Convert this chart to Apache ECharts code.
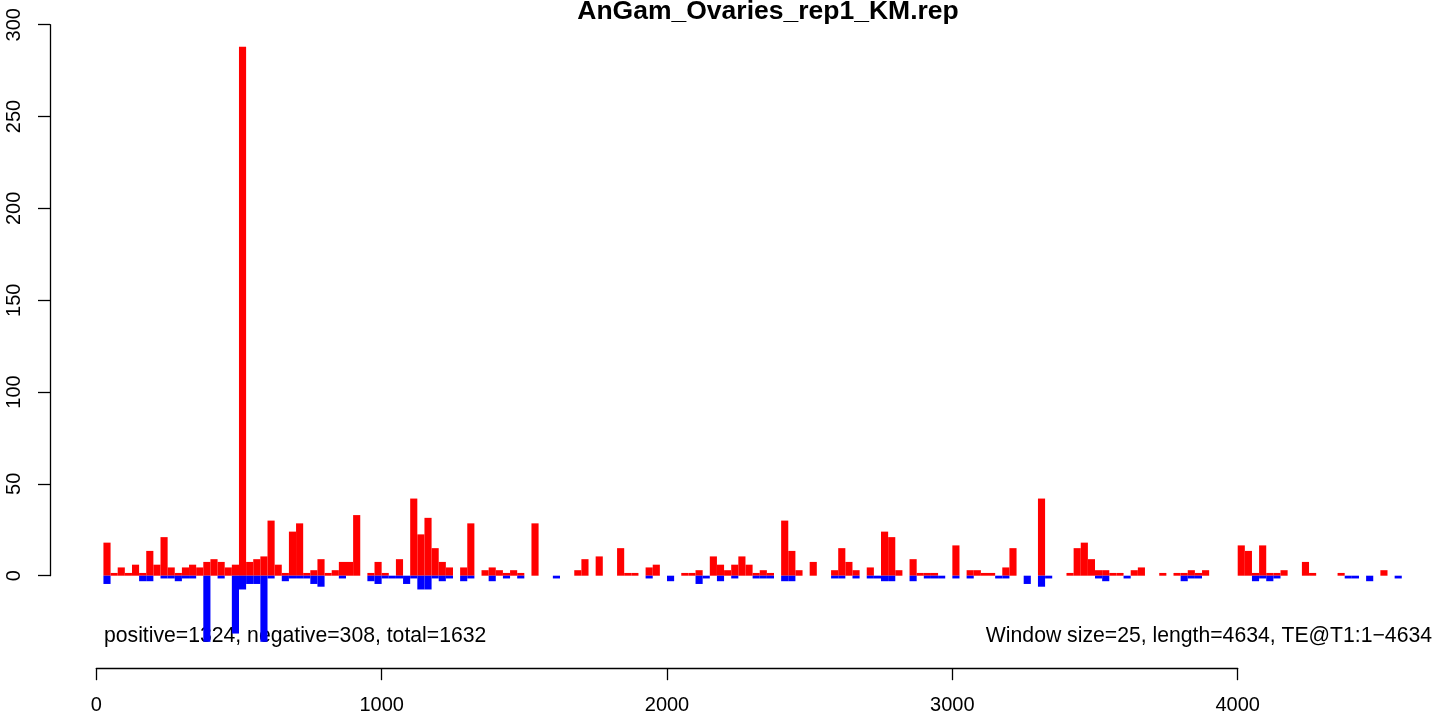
<!DOCTYPE html>
<html>
<head>
<meta charset="utf-8">
<title>AnGam_Ovaries_rep1_KM.rep</title>
<script src="https://cdn.jsdelivr.net/npm/echarts@6/dist/echarts.min.js"></script>
<style>
  html, body { margin: 0; padding: 0; background: #fff; }
  #main { width: 1450px; height: 719px; }
</style>
</head>
<body>
<div id="main"></div>
<script>
var chartTitle = 'AnGam_Ovaries_rep1_KM.rep';
var windowSize = 25;
var seqLength = 4634;
var statsText = 'positive=1324, negative=308, total=1632';
var infoText = 'Window size=25, length=4634, TE@T1:1\u22124634';

// one value per 25bp window, sense strand (red)
var posValues = [
    0, 18, 1.5, 4.5, 1.5, 6, 1.5, 13.5, 6, 21,
    4.5, 1.5, 4.5, 6, 4.5, 7.5, 9, 7.5, 4.5, 6,
    288, 7.5, 9, 10.5, 30, 6, 1.5, 24, 28.5, 1.5,
    3, 9, 1.5, 3, 7.5, 7.5, 33, 0, 1.5, 7.5,
    1.5, 0, 9, 0, 42, 22.5, 31.5, 15, 7.5, 4.5,
    0, 4.5, 28.5, 0, 3, 4.5, 3, 1.5, 3, 1.5,
    0, 28.5, 0, 0, 0, 0, 0, 3, 9, 0,
    10.5, 0, 0, 15, 1.5, 1.5, 0, 4.5, 6, 0,
    0, 0, 1.5, 1.5, 3, 0, 10.5, 6, 3, 6,
    10.5, 6, 1.5, 3, 1.5, 0, 30, 13.5, 3, 0,
    7.5, 0, 0, 3, 15, 7.5, 3, 0, 4.5, 0,
    24, 21, 3, 0, 9, 1.5, 1.5, 1.5, 0, 0,
    16.5, 0, 3, 3, 1.5, 1.5, 0, 4.5, 15, 0,
    0, 0, 42, 0, 0, 0, 1.5, 15, 18, 9,
    3, 3, 1.5, 1.5, 0, 3, 4.5, 0, 0, 1.5,
    0, 1.5, 1.5, 3, 1.5, 3, 0, 0, 0, 0,
    16.5, 13.5, 1.5, 16.5, 1.5, 1.5, 3, 0, 0, 7.5,
    1.5, 0, 0, 0, 1.5, 0, 0, 0, 0, 0,
    3, 0, 0, 0, 0, 0
];

// antisense strand (blue)
var negValues = [
    0, -4.5, 0, 0, 0, 0, -3, -3, 0, -1.5,
    -1.5, -3, -1.5, -1.5, 0, -36, 0, -1.5, 0, -31.5,
    -7.5, -4.5, -4.5, -36, -1.5, 0, -3, -1.5, -1.5, -1.5,
    -4.5, -6, 0, 0, -1.5, 0, 0, 0, -3, -4.5,
    -1.5, -1.5, -1.5, -4.5, -1.5, -7.5, -7.5, -1.5, -3, -1.5,
    0, -3, -1.5, 0, 0, -3, 0, -1.5, 0, -1.5,
    0, 0, 0, 0, -1.5, 0, 0, 0, 0, 0,
    0, 0, 0, 0, 0, 0, 0, -1.5, 0, 0,
    -3, 0, 0, 0, -4.5, -1.5, 0, -3, 0, -1.5,
    0, 0, -1.5, -1.5, -1.5, 0, -3, -3, 0, 0,
    0, 0, 0, -1.5, -1.5, 0, -1.5, 0, -1.5, -1.5,
    -3, -3, 0, 0, -3, 0, -1.5, -1.5, -1.5, 0,
    -1.5, 0, -1.5, 0, 0, 0, -1.5, -1.5, 0, 0,
    -4.5, 0, -6, -1.5, 0, 0, 0, 0, 0, 0,
    -1.5, -3, 0, 0, -1.5, 0, 0, 0, 0, 0,
    0, 0, -3, -1.5, -1.5, 0, 0, 0, 0, 0,
    0, 0, -3, -1.5, -3, -1.5, 0, 0, 0, 0,
    0, 0, 0, 0, 0, -1.5, -1.5, 0, -3, 0,
    0, 0, -1.5, 0, 0, 0
];

var yTicks = [0, 50, 100, 150, 200, 250, 300];
var xTicks = [0, 1000, 2000, 3000, 4000];

function toPoints(vals) {
    var out = [];
    for (var i = 0; i < vals.length; i++) {
        if (vals[i] !== 0) out.push([i * windowSize, vals[i]]);
    }
    return out;
}

function makeRender(color) {
    return function (params, api) {
        var x0 = api.value(0);
        var v = api.value(1);
        var a = api.coord([x0, 0]);
        var b = api.coord([x0 + windowSize, v]);
        return {
            type: 'rect',
            shape: {
                x: a[0],
                y: Math.min(a[1], b[1]),
                width: b[0] - a[0],
                height: Math.abs(b[1] - a[1])
            },
            style: { fill: color }
        };
    };
}

var font = 'Liberation Sans, Arial, Helvetica, sans-serif';
var myChart = echarts.init(document.getElementById('main'), null, { renderer: 'canvas' });
var option = {
    animation: false,
    backgroundColor: '#fff',
    textStyle: { fontFamily: font },
    grid: {
        left: 96.3,
        top: 24.7,
        width: 1141.4,
        height: 551
    },
    xAxis: {
        type: 'value',
        min: xTicks[0],
        max: xTicks[xTicks.length - 1],
        interval: 1000,
        offset: 92.5,
        axisLine: { show: true, onZero: false, lineStyle: { color: '#000', width: 1.3 } },
        axisTick: { show: true, length: 12, lineStyle: { color: '#000', width: 1.3 } },
        axisLabel: {
            color: '#000', fontSize: 20, margin: 27, fontFamily: font,
            formatter: function (v) { return String(v); }
        },
        splitLine: { show: false }
    },
    yAxis: {
        type: 'value',
        min: yTicks[0],
        max: yTicks[yTicks.length - 1],
        interval: 50,
        offset: 46.3,
        axisLine: { show: true, onZero: false, lineStyle: { color: '#000', width: 1.3 } },
        axisTick: { show: true, length: 12, lineStyle: { color: '#000', width: 1.3 } },
        axisLabel: { color: '#000', fontSize: 20, rotate: 90, margin: 26, fontFamily: font },
        splitLine: { show: false }
    },
    graphic: [
        {
            type: 'text', x: 768, y: 12,
            style: {
                text: chartTitle, font: 'bold 26.5px ' + font, fill: '#000',
                textAlign: 'center', textVerticalAlign: 'middle'
            }
        },
        {
            type: 'text', x: 104, y: 636,
            style: { text: statsText, font: '21.2px ' + font, fill: '#000', textVerticalAlign: 'middle' }
        },
        {
            type: 'text', x: 1432, y: 636,
            style: { text: infoText, font: '21.2px ' + font, fill: '#000', textAlign: 'right', textVerticalAlign: 'middle' }
        }
    ],
    series: [
        {
            name: 'positive',
            type: 'custom',
            clip: false,
            renderItem: makeRender('#ff0000'),
            encode: { x: 0, y: 1 },
            data: toPoints(posValues),
            z: 2
        },
        {
            name: 'negative',
            type: 'custom',
            clip: false,
            renderItem: makeRender('#0000ff'),
            encode: { x: 0, y: 1 },
            data: toPoints(negValues),
            z: 2,
            markLine: {
                silent: true,
                symbol: 'none',
                label: { show: false },
                lineStyle: { color: '#555', type: 'solid', width: 1.3 },
                data: [[{ coord: [0, 0] }, { coord: [seqLength + 50, 0] }]]
            }
        }
    ]
};
myChart.setOption(option);
</script>
</body>
</html>
